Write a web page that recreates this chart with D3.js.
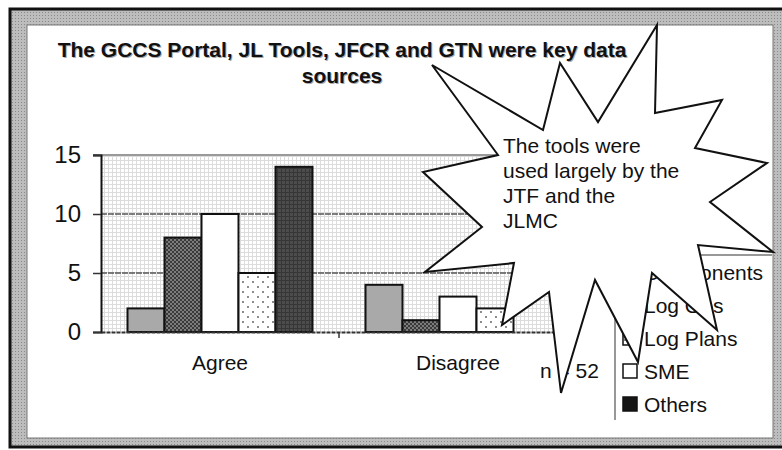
<!DOCTYPE html>
<html>
<head>
<meta charset="utf-8">
<script src="https://cdn.jsdelivr.net/npm/d3@7"></script>
<style>
  body { margin: 0; background: #fff; }
  svg { display: block; font-family: "Liberation Sans", Arial, sans-serif; }
</style>
</head>
<body>
<div class="chart"></div>
<script>
const categories = ["Agree", "Disagree"];
const seriesNames = ["Components", "Log Ops", "SME", "Log Plans", "Others"];
const agreeValues = [2, 8, 10, 5, 14];
const disagreeValues = [4, 1, 3, 2, 0];
const yTicks = [0, 5, 10, 15];
const legendOrder = ["Components", "Log Ops", "Log Plans", "SME", "Others"];
const titleLines = ["The GCCS Portal, JL Tools, JFCR and GTN were key data", "sources"];
const calloutLines = ["The tools were", "used largely by the", "JTF and the", "JLMC"];
const noteText = "n = 52";

const width = 782;
const height = 450;

const svg = d3.select(".chart").append("svg")
  .attr("width", width)
  .attr("height", height);

const defs = svg.append("defs");

// textures that imitate the scanned fills
const border = defs.append("pattern").attr("id", "border")
  .attr("width", 3).attr("height", 3).attr("patternUnits", "userSpaceOnUse");
border.append("rect").attr("width", 3).attr("height", 3).attr("fill", "#bdbdbd");
border.append("rect").attr("width", 1).attr("height", 1).attr("fill", "#8a8a8a");

const plotGrid = defs.append("pattern").attr("id", "plotGrid")
  .attr("width", 4).attr("height", 4).attr("patternUnits", "userSpaceOnUse");
plotGrid.append("rect").attr("width", 4).attr("height", 4).attr("fill", "#fff");
plotGrid.append("path").attr("d", "M0,0.5H4M0.5,0V4").attr("stroke", "#dcdcdc").attr("stroke-width", 1);

const hatch = defs.append("pattern").attr("id", "hatch")
  .attr("width", 4).attr("height", 4).attr("patternUnits", "userSpaceOnUse");
hatch.append("rect").attr("width", 4).attr("height", 4).attr("fill", "#7c7c7c");
hatch.append("path").attr("d", "M0,0L4,4M4,0L0,4").attr("stroke", "#3a3a3a").attr("stroke-width", 1);

const dots = defs.append("pattern").attr("id", "dots")
  .attr("width", 10).attr("height", 10).attr("patternUnits", "userSpaceOnUse");
dots.append("rect").attr("width", 10).attr("height", 10).attr("fill", "#fff");
dots.append("circle").attr("cx", 2).attr("cy", 2).attr("r", 0.9).attr("fill", "#555");
dots.append("circle").attr("cx", 7).attr("cy", 7).attr("r", 0.9).attr("fill", "#555");

const darkGrid = defs.append("pattern").attr("id", "darkGrid")
  .attr("width", 4).attr("height", 4).attr("patternUnits", "userSpaceOnUse");
darkGrid.append("rect").attr("width", 4).attr("height", 4).attr("fill", "#4c4c4c");
darkGrid.append("path").attr("d", "M0,0.5H4M0.5,0V4").attr("stroke", "#363636").attr("stroke-width", 1);

const color = d3.scaleOrdinal()
  .domain(seriesNames)
  .range(["#a9a9a9", "url(#hatch)", "#fff", "url(#dots)", "url(#darkGrid)"]);

// frame
svg.append("rect")
  .attr("x", 10).attr("y", 9).attr("width", 790).attr("height", 438)
  .attr("fill", "url(#border)")
  .attr("stroke", "#111").attr("stroke-width", 3);
svg.append("rect")
  .attr("x", 27).attr("y", 25).attr("width", 746).attr("height", 413)
  .attr("fill", "#fff")
  .attr("stroke", "#777").attr("stroke-width", 1);

// title
titleLines.forEach(function(line, i) {
  svg.append("text")
    .attr("x", 343).attr("y", 58 + i * 26)
    .attr("text-anchor", "middle")
    .style("font-size", "21px").style("font-weight", "bold")
    .attr("fill", "#aaa")
    .text(line);
  svg.append("text")
    .attr("x", 342).attr("y", 57 + i * 26)
    .attr("text-anchor", "middle")
    .style("font-size", "21px").style("font-weight", "bold")
    .attr("fill", "#111")
    .text(line);
});

// plot
const plotLeft = 101, plotRight = 577, plotTop = 155, plotBottom = 332;

const x0 = d3.scaleBand()
  .domain(categories)
  .range([plotLeft, plotRight]);

const x1 = d3.scaleBand()
  .domain(seriesNames)
  .range([0, x0.bandwidth()])
  .paddingOuter(0.716);

const y = d3.scaleLinear()
  .domain([0, 15])
  .range([plotBottom, plotTop]);

svg.append("rect")
  .attr("x", plotLeft).attr("y", plotTop)
  .attr("width", plotRight - plotLeft).attr("height", plotBottom - plotTop)
  .attr("fill", "url(#plotGrid)");

svg.append("line")
  .attr("x1", plotLeft - 8).attr("x2", plotRight)
  .attr("y1", y(15)).attr("y2", y(15))
  .attr("stroke", "#9a9a9a").attr("stroke-width", 2);

svg.selectAll(".gridline")
  .data(yTicks.filter(function(d) { return d > 0 && d < 15; }))
  .enter()
  .append("line")
  .attr("class", "gridline")
  .attr("x1", plotLeft).attr("x2", plotRight)
  .attr("y1", function(d) { return y(d); })
  .attr("y2", function(d) { return y(d); })
  .attr("stroke", "#555").attr("stroke-width", 1.5)
  .attr("stroke-dasharray", "6,1");

const rows = categories.map(function(c, i) {
  const vals = i === 0 ? agreeValues : disagreeValues;
  return { category: c, values: seriesNames.map(function(s, j) { return { series: s, value: vals[j] }; }) };
});

const groups = svg.selectAll(".group")
  .data(rows)
  .enter()
  .append("g")
  .attr("class", "group")
  .attr("transform", function(d) { return "translate(" + x0(d.category) + ",0)"; });

groups.selectAll("rect")
  .data(function(d) { return d.values.filter(function(v) { return v.value > 0; }); })
  .enter()
  .append("rect")
  .attr("x", function(d) { return x1(d.series); })
  .attr("y", function(d) { return y(d.value); })
  .attr("width", x1.bandwidth())
  .attr("height", function(d) { return y(0) - y(d.value); })
  .attr("fill", function(d) { return color(d.series); })
  .attr("stroke", "#111")
  .attr("stroke-width", 2);

// axes
const yAxis = svg.append("g")
  .attr("transform", "translate(" + plotLeft + ",0)")
  .call(d3.axisLeft(y).tickValues(yTicks).tickSize(8).tickPadding(12));
yAxis.select(".domain").attr("stroke", "#111").attr("stroke-width", 2);
yAxis.selectAll(".tick line").attr("stroke", "#333").attr("stroke-width", 1.5);
yAxis.selectAll(".tick text")
  .style("font-size", "24px")
  .style("font-family", "Liberation Sans, Arial, sans-serif")
  .attr("fill", "#111");

const xAxis = svg.append("g")
  .attr("transform", "translate(0," + plotBottom + ")")
  .call(d3.axisBottom(x0).tickSize(0).tickPadding(23));
xAxis.select(".domain").attr("stroke", "#333").attr("stroke-width", 2).attr("stroke-dasharray", "4,1");
xAxis.selectAll(".tick text")
  .style("font-size", "21px")
  .style("font-family", "Liberation Sans, Arial, sans-serif")
  .attr("fill", "#111");
svg.append("line")
  .attr("x1", x0("Disagree")).attr("x2", x0("Disagree"))
  .attr("y1", plotBottom).attr("y2", plotBottom + 6)
  .attr("stroke", "#333").attr("stroke-width", 1.5);

svg.append("text")
  .attr("x", 540).attr("y", 378)
  .style("font-size", "21px")
  .attr("fill", "#111")
  .text(noteText);

// legend
const legend = svg.append("g");
legend.append("path")
  .attr("d", "M615,420V255H772")
  .attr("fill", "none")
  .attr("stroke", "#777").attr("stroke-width", 1.5);

const legendItem = legend.selectAll(".legend-item")
  .data(legendOrder)
  .enter()
  .append("g")
  .attr("class", "legend-item")
  .attr("transform", function(d, i) { return "translate(623," + (272 + i * 33) + ")"; });

legendItem.append("rect")
  .attr("y", -7).attr("width", 14).attr("height", 14)
  .attr("fill", function(d) { return d === "Others" ? "#151515" : color(d); })
  .attr("stroke", "#111").attr("stroke-width", 1.5);

legendItem.append("text")
  .attr("x", 21).attr("y", 8)
  .style("font-size", "21px")
  .attr("fill", "#111")
  .text(function(d) { return d; });

// callout star
const starPoints = [
  [657, 25], [655, 113], [722, 100], [695, 148], [767, 163], [710, 202],
  [773, 252], [698, 245], [717, 330], [652, 273], [638, 362], [595, 280],
  [561, 393], [549, 292], [502, 325], [514, 263], [425, 272], [482, 227],
  [423, 172], [498, 155], [432, 65], [543, 130], [560, 63], [598, 122]
];

svg.append("polygon")
  .attr("points", starPoints.map(function(p) { return p.join(","); }).join(" "))
  .attr("fill", "#fff")
  .attr("stroke", "#111")
  .attr("stroke-width", 2)
  .attr("stroke-linejoin", "miter");

svg.append("g").selectAll("text")
  .data(calloutLines)
  .enter()
  .append("text")
  .attr("x", 503)
  .attr("y", function(d, i) { return 153 + i * 25; })
  .style("font-size", "21px")
  .attr("fill", "#111")
  .text(function(d) { return d; });
</script>
</body>
</html>
